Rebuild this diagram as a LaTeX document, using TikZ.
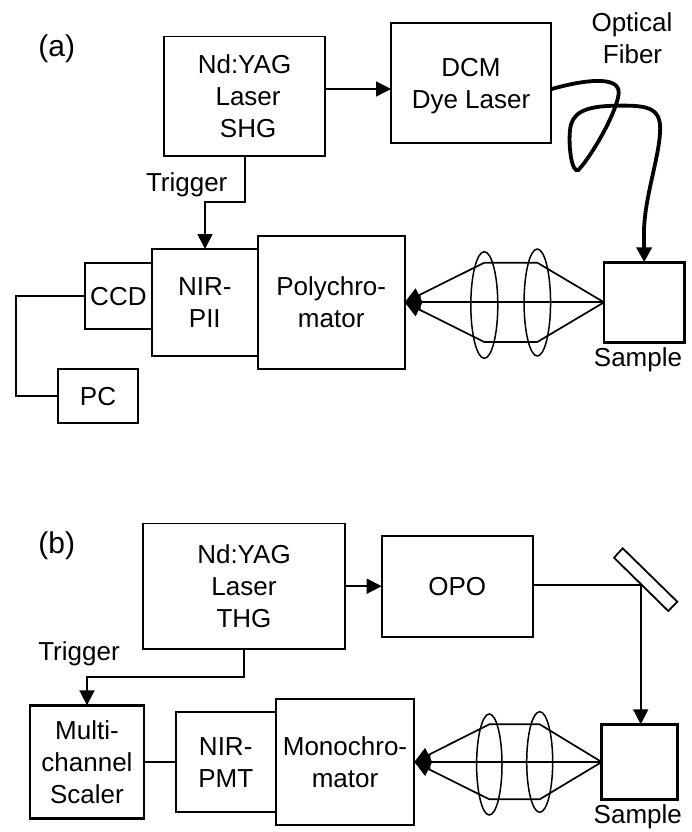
\documentclass[tikz,border=0pt]{standalone}
\usepackage{fontspec}
\setmainfont{Liberation Sans}
\usetikzlibrary{arrows.meta,shapes.geometric}
\def\st{\vrule width 0pt height 25.6pt depth 6.4pt\relax}
\tikzset{
  txt/.style={font=\fontsize{26}{32}\selectfont,inner sep=0pt,outer sep=0pt,text=black},
  box/.style={txt,draw=black,line width=1.7pt,align=center},
  thickbox/.style={box,line width=2.5pt},
  lbl/.style={txt,anchor=base},
  panel/.style={lbl,font=\fontsize{30}{34}\selectfont},
  lens/.style={ellipse,draw=black,line width=1.5pt,inner sep=0pt,outer sep=0pt},
  wire/.style={draw=black,line width=1.7pt},
  beam/.style={wire,-{Triangle[length=15pt,width=15pt]}},
  ray/.style={wire,-{Triangle[length=16pt,width=15pt]}},
  fiber/.style={draw=black,line width=3.8pt,line cap=round,-{Triangle[length=15pt,width=15pt]}}
}
\begin{document}
\begin{tikzpicture}[x=1pt,y=-1pt]
\path[use as bounding box] (0,0) rectangle (691,832);

% ---------- panel (a)
\node[panel] (labA) at (56.7,57) {(a)};
\node[box,minimum width=160.5pt,minimum height=119.5pt] (ndA) at (244.5,96.2)
  {\st Nd:YAG\\\st\hspace*{7.2pt}Laser\\\st\hspace*{7.2pt}SHG};
\node[box,minimum width=160pt,minimum height=120pt] (dcm) at (471,83)
  {\st DCM\\\st Dye Laser};
\node[box,minimum width=106pt,minimum height=106.7pt] (pii) at (204.8,302.3)
  {\st NIR-\\\st PII};
\node[box,minimum width=67pt,minimum height=66.4pt] (ccd) at (118.4,296)
  {\st CCD};
\node[box,minimum width=80pt,minimum height=53.7pt] (pc) at (98,396)
  {\st PC};
\node[box,minimum width=147pt,minimum height=132.7pt] (poly) at (331.2,302.3)
  {\st Polychro-\\\st mator};
\node[thickbox,minimum width=80.3pt,minimum height=80pt] (sampA) at (644.2,302.3) {};
\node[lbl] (sampAt) at (638,366) {Sample};
\node[lbl] (opt) at (632,31.7) {Optical};
\node[lbl] (fib) at (632.5,63.3) {Fiber};
\node[lbl] (trigA) at (186.7,191.7) {Trigger};
\node[lens,minimum width=27pt,minimum height=106.6pt] (l1a) at (484.3,305) {};
\node[lens,minimum width=26.5pt,minimum height=107pt] (l2a) at (537.3,302.5) {};

\coordinate (ndAout) at (324.7,89);
\coordinate (dcmIn) at (391,89);
\coordinate (ndAtrig) at (245,156);
\coordinate (piiIn) at (205,249);
\coordinate (fibStart) at (551.7,89);

\draw[beam] (ndAout) -- (dcmIn);
\draw[beam] (ndAtrig) -- (245,202) -- (205,202) -- (piiIn);
\draw[wire] (ccd.west) -- (16,296) -- (16,396) -- (pc.west);
\draw[fiber] (fibStart)
  .. controls (583.3,80) and (620,75) .. (618.7,93.3)
  .. controls (616.7,113.3) and (590,158.3) .. (578.3,170)
  .. controls (571.7,173.3) and (568.3,146.7) .. (570,130)
  .. controls (571.7,113.3) and (583.3,106) .. (616.7,105.7)
  .. controls (650,105) and (661.7,108.3) .. (660,133.3)
  .. controls (658.3,160) and (645,196.7) .. (644,230)
  -- (sampA.north);
\draw[ray] (sampA.west) -- (537.3,262.7) -- (484.3,262.7) -- (poly.east);
\draw[ray] (sampA.west) -- (poly.east);
\draw[ray] (sampA.west) -- (537.3,342) -- (484.3,342) -- (poly.east);

% ---------- panel (b)
\node[panel] (labB) at (56.7,553.7) {(b)};
\node[box,minimum width=201.4pt,minimum height=125.7pt] (ndB) at (244,586.2)
  {\st Nd:YAG\\\st Laser\\\st THG};
\node[box,minimum width=151pt,minimum height=101pt] (opo) at (457.2,586.2)
  {\st OPO};
\node[thickbox,minimum width=114pt,minimum height=113.3pt] (scal) at (87,762)
  {\st Multi-\\\st channel\\\st Scaler};
\node[box,minimum width=100pt,minimum height=100.6pt] (pmt) at (225.7,762)
  {\st NIR-\\\st PMT};
\node[box,minimum width=138.6pt,minimum height=126pt] (mono) at (345,762)
  {\st Monochro-\\\st mator};
\node[thickbox,minimum width=76pt,minimum height=75pt] (sampB) at (639.7,762) {};
\node[lbl] (sampBt) at (637.8,823.3) {Sample};
\node[lbl] (trigB) at (79,660) {Trigger};
\node[lens,minimum width=25.4pt,minimum height=101pt] (l1b) at (489.3,764.5) {};
\node[lens,minimum width=26pt,minimum height=100.6pt] (l2b) at (539.7,762) {};

\coordinate (opoOut) at (532.7,585.3);
\coordinate (mirHit) at (640.7,585.3);
\draw[wire,line width=1.8pt,line join=miter] (622.7,548.3) -- (677.3,601.7) -- (668.3,611) -- (614,557.7) -- cycle;

\draw[beam] (ndB.east) -- (opo.west);
\draw[beam] (ndB.south) -- (244,677) -- (87,677) -- (scal.north);
\draw[wire] (scal.east) -- (pmt.west);
\draw[wire] (opoOut) -- (mirHit);
\draw[beam] (mirHit) -- (640.7,724.3);
\draw[ray] (sampB.west) -- (539.7,724.3) -- (489.3,724.3) -- (mono.east);
\draw[ray] (sampB.west) -- (mono.east);
\draw[ray] (sampB.west) -- (539.7,799.3) -- (489.3,799.3) -- (mono.east);
\end{tikzpicture}
\end{document}
